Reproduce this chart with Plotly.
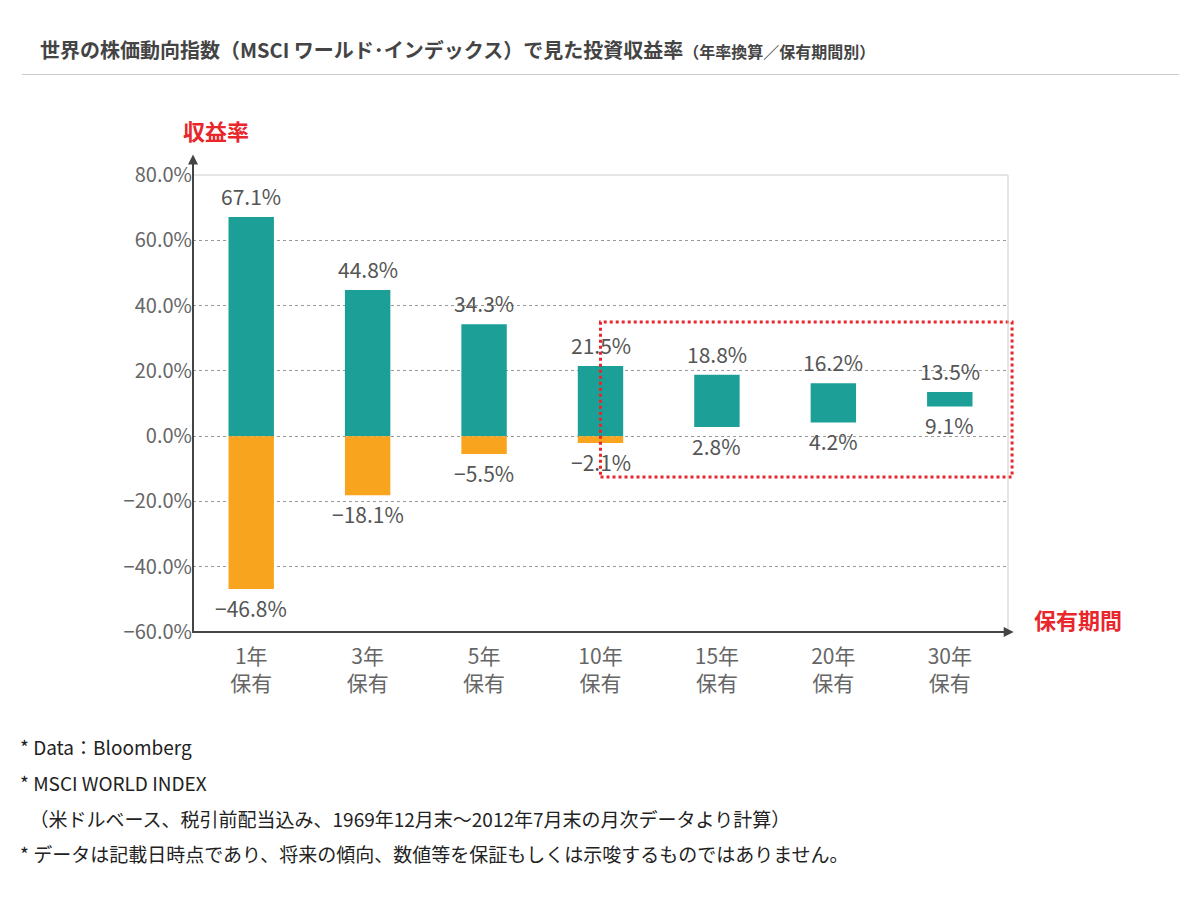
import plotly.graph_objects as go

categories = ["1年<br>保有", "3年<br>保有", "5年<br>保有", "10年<br>保有", "15年<br>保有", "20年<br>保有", "30年<br>保有"]
max_ret = [67.1, 44.8, 34.3, 21.5, 18.8, 16.2, 13.5]
min_ret = [-46.8, -18.1, -5.5, -2.1, 2.8, 4.2, 9.1]
tick_vals = [80, 60, 40, 20, 0, -20, -40, -60]

FONT = "Noto Sans CJK JP"
TEAL = "#1b9f97"
ORANGE = "#f8a41f"
GREY = "#555555"

idx = list(range(len(categories)))
teal_base = [max(m, 0) for m in min_ret]
teal_h = [mx - b for mx, b in zip(max_ret, teal_base)]
orange_h = [-m if m < 0 else 0 for m in min_ret]
orange_base = [m if m < 0 else 0 for m in min_ret]

fig = go.Figure()
fig.add_bar(x=idx, y=teal_h, base=teal_base, width=0.39, marker=dict(color=TEAL, line=dict(width=0)))
fig.add_bar(x=idx, y=orange_h, base=orange_base, width=0.39, marker=dict(color=ORANGE, line=dict(width=0)))

for i in idx:
    fig.add_annotation(x=i, y=max_ret[i], text=f"{max_ret[i]}%", showarrow=False, yanchor="bottom", yshift=4,
                       font=dict(size=21, color=GREY, family=FONT))
    lab = f"{min_ret[i]}%".replace("-", "−")
    fig.add_annotation(x=i, y=min_ret[i], text=lab, showarrow=False, yanchor="top", yshift=-2,
                       font=dict(size=21, color=GREY, family=FONT))

# red dotted highlight (paper coords so it is not clipped at the right edge)
fig.add_shape(type="rect", x0=3.5 / 7, x1=1.005, y0=(60 - 12.5) / 140, y1=(60 + 35) / 140,
              xref="paper", yref="paper", line=dict(color="#e8262c", width=3, dash="dot"), layer="above")

# frame
fig.add_shape(type="line", xref="paper", yref="paper", x0=0, x1=1, y0=1, y1=1, line=dict(color="#cccccc", width=1))
fig.add_shape(type="line", xref="paper", yref="paper", x0=1, x1=1, y0=0, y1=1, line=dict(color="#cccccc", width=1))
# axes with arrows
fig.add_annotation(xref="paper", yref="paper", x=0, y=1.045, ax=0, ay=480, showarrow=True,
                   arrowhead=2, arrowsize=1, arrowwidth=2, arrowcolor="#444444", text="")
fig.add_annotation(xref="paper", yref="paper", x=1.007, y=0, ax=-822, ay=0, showarrow=True,
                   arrowhead=2, arrowsize=1, arrowwidth=2, arrowcolor="#444444", text="")
fig.add_annotation(xref="paper", yref="paper", x=-0.015, y=1.06, text="<b>収益率</b>", showarrow=False,
                   yanchor="bottom", font=dict(size=22, color="#e8262c", family=FONT))
fig.add_annotation(xref="paper", yref="paper", x=1.03, y=-0.01, text="<b>保有期間</b>", showarrow=False,
                   xanchor="left", font=dict(size=22, color="#e8262c", family=FONT))

# title and notes
fig.add_annotation(xref="paper", yref="paper", x=-0.19, y=1.31, xanchor="left", showarrow=False,
                   text="<b>世界の株価動向指数（MSCI ワールド･インデックス）で見た投資収益率</b><span style='font-size:16px'><b>（年率換算／保有期間別）</b></span>",
                   font=dict(size=20, color="#444444", family=FONT))
fig.add_shape(type="line", xref="paper", yref="paper", x0=-0.21, x1=1.21, y0=1.22, y1=1.22,
              line=dict(color="#cccccc", width=1))
notes = ["* Data：Bloomberg", "* MSCI WORLD INDEX",
         "　（米ドルベース、税引前配当込み、1969年12月末～2012年7月末の月次データより計算）",
         "* データは記載日時点であり、将来の傾向、数値等を保証もしくは示唆するものではありません。"]
for k, n in enumerate(notes):
    fig.add_annotation(xref="paper", yref="paper", x=-0.215, y=-0.285 - k * 0.078, xanchor="left",
                       showarrow=False, text=n, font=dict(size=19, color="#222222", family=FONT))

fig.update_layout(
    width=1200, height=897, margin=dict(l=185, r=200, t=167, b=273),
    paper_bgcolor="white", plot_bgcolor="white", barmode="overlay", showlegend=False,
    font=dict(family=FONT),
    xaxis=dict(tickmode="array", tickvals=idx, ticktext=categories, range=[-0.5, 6.5], automargin=False,
               showgrid=False, zeroline=False, showline=False, ticks="", ticklabelstandoff=10,
               tickfont=dict(size=21, color="#666666", family=FONT)),
    yaxis=dict(range=[-60, 80], tickvals=tick_vals, ticktext=[f"{v:.1f}%".replace("-", "−") for v in tick_vals],
               showgrid=True, gridcolor="#999999", griddash="dot", gridwidth=1, zeroline=False, automargin=False,
               showline=False, ticks="", ticklen=6, tickfont=dict(size=20, color="#666666", family=FONT)),
)

fig.write_html("out.html")
